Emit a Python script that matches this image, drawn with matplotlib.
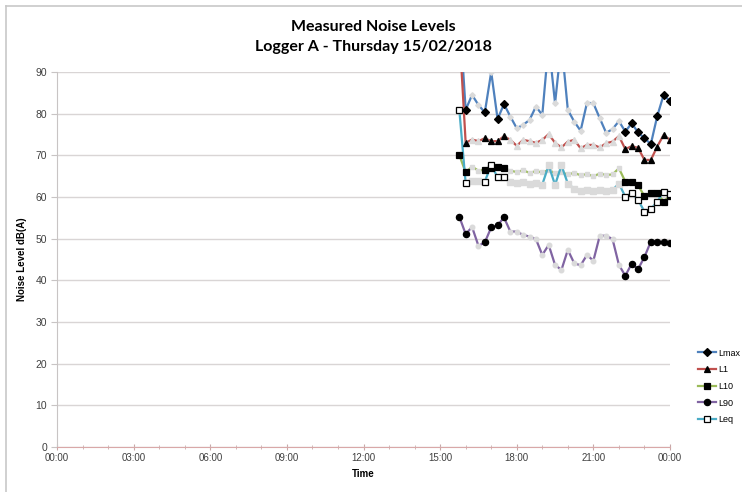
import matplotlib
matplotlib.use("Agg")
import matplotlib.pyplot as plt
from matplotlib.lines import Line2D

# ---- data ----
times = ["15:45", "16:00", "16:15", "16:30", "16:45", "17:00", "17:15", "17:30",
         "17:45", "18:00", "18:15", "18:30", "18:45", "19:00", "19:15", "19:30",
         "19:45", "20:00", "20:15", "20:30", "20:45", "21:00", "21:15", "21:30",
         "21:45", "22:00", "22:15", "22:30", "22:45", "23:00", "23:15", "23:30",
         "23:45", "00:00"]

lmax = [105.0, 80.9, 84.5, 82.1, 80.3, 90.0, 78.7, 82.3, 79.3, 76.5, 77.3, 78.5,
        81.7, 79.7, 97.0, 82.5, 97.0, 80.9, 78.1, 75.9, 82.6, 82.5, 78.9, 75.4,
        76.3, 78.2, 75.7, 77.7, 75.5, 74.1, 72.7, 79.4, 84.5, 83.0]
l1 = [100.0, 73.0, 73.8, 73.4, 74.1, 73.4, 73.4, 74.6, 73.7, 72.3, 73.7, 73.4,
      73.0, 73.7, 75.1, 73.0, 71.9, 73.3, 73.7, 71.7, 72.5, 72.5, 71.9, 72.9,
      73.3, 74.6, 71.5, 72.2, 71.8, 68.9, 68.9, 72.1, 74.9, 73.7]
l10 = [70.1, 65.9, 67.3, 66.3, 66.6, 66.9, 67.1, 66.9, 66.3, 66.0, 66.4, 65.8,
       66.2, 65.9, 66.5, 65.7, 65.9, 65.4, 65.8, 65.2, 65.5, 65.0, 65.6, 65.3,
       65.4, 66.9, 63.7, 63.6, 62.8, 60.2, 60.9, 60.9, 58.9, 60.3]
l90 = [55.3, 51.1, 52.8, 48.3, 49.1, 52.7, 53.2, 55.1, 51.7, 51.7, 50.9, 50.5,
       49.9, 46.1, 48.5, 43.7, 42.5, 47.3, 44.1, 43.6, 46.1, 44.7, 50.7, 50.7,
       49.9, 43.7, 41.1, 44.0, 42.7, 45.6, 49.3, 49.3, 49.1, 48.9]
leq = [81.0, 63.3, 63.9, 63.8, 63.7, 67.7, 64.7, 64.7, 63.5, 63.3, 63.6, 63.2,
       63.4, 63.0, 67.6, 62.9, 67.6, 63.2, 62.0, 61.5, 61.7, 61.4, 61.6, 61.5,
       61.7, 63.2, 60.1, 60.9, 59.3, 56.5, 57.1, 58.9, 61.3, 60.6]

# points whose markers are shown dark in the reference
lmax_dark = [1, 4, 6, 7, 26, 27, 28, 29, 30, 31, 32, 33]
l1_dark = [1, 4, 5, 6, 7, 26, 27, 28, 29, 30, 31, 32, 33]
l10_dark = [0, 1, 4, 5, 6, 7, 26, 27, 28, 29, 30, 31, 32, 33]
l90_dark = [0, 1, 4, 5, 6, 7, 26, 27, 28, 29, 30, 31, 32, 33]
leq_dark = [0, 1, 4, 5, 6, 7, 26, 27, 28, 29, 30, 31, 32, 33]

series_names = ["Lmax", "L1", "L10", "L90", "Leq"]
x_tick_labels = ["00:00", "03:00", "06:00", "09:00", "12:00", "15:00", "18:00", "21:00", "00:00"]
y_ticks = [0, 10, 20, 30, 40, 50, 60, 70, 80, 90]


def to_hours(labels):
    out = []
    prev = -1
    for t in labels:
        h, m = t.split(":")
        v = int(h) + int(m) / 60.0
        if v < prev:
            v += 24
        out.append(v)
        prev = v
    return out


x = to_hours(times)

plt.rcParams['font.family'] = ['Liberation Sans', 'DejaVu Sans']

fig = plt.figure(figsize=(7.42, 4.92), dpi=100)
ax = fig.add_axes([57 / 742, 1 - 447 / 492, (670 - 57) / 742, (447 - 72) / 492])

styles = [
    (lmax, lmax_dark, "#4F81BD", "D", "black", 4.0),
    (l1, l1_dark, "#C0504D", "^", "black", 5.0),
    (l10, l10_dark, "#9BBB59", "s", "black", 4.5),
    (l90, l90_dark, "#8064A2", "o", "black", 4.5),
    (leq, leq_dark, "#4BACC6", "s", "white", 5.0),
]

handles = []
for (vals, dark, col, mk, mfc, ms), name in zip(styles, series_names):
    ax.plot(x, vals, color=col, lw=1.6, marker=mk, ms=ms - 1.2,
            mfc="#dadada", mec="#dadada", zorder=3)
    ax.plot(x, vals, linestyle="none", marker=mk, ms=ms, mfc=mfc, mec="black",
            mew=0.9, markevery=dark, zorder=4)
    handles.append(Line2D([0], [0], color=col, lw=1.6, marker=mk, ms=ms,
                          mfc=mfc, mec="black", mew=0.9))

ax.set_xlim(0, 24)
ax.set_ylim(0, 90)
ax.set_xticks([0, 3, 6, 9, 12, 15, 18, 21, 24])
ax.set_xticklabels(x_tick_labels)
ax.set_xticks(range(0, 25), minor=True)
ax.set_yticks(y_ticks)
ax.yaxis.grid(True, color="#d9d5d5", lw=1.0)
ax.set_axisbelow(True)

for s in ["top", "right"]:
    ax.spines[s].set_visible(False)
ax.spines["left"].set_color("#c8c4c4")
ax.spines["bottom"].set_color("#d9a8a8")
ax.tick_params(axis="x", which="both", direction="inout", length=5,
               color="#c8a8a8", labelsize=7, labelcolor="#404040", pad=2)
ax.tick_params(axis="x", which="minor", length=3)
ax.tick_params(axis="y", direction="out", length=4, color="#c8c4c4",
               labelsize=7.5, labelcolor="#404040", pad=3)

ax.set_xlabel("Time", fontsize=7, fontweight="bold", labelpad=4)
ax.set_ylabel("Noise Level dB(A)", fontsize=7, fontweight="bold", labelpad=6)

fig.text(0.503, 1 - 27 / 492, "Measured Noise Levels", ha="center", va="center",
         fontsize=11.5, fontweight="bold", family=["Lato", "DejaVu Sans"])
fig.text(0.503, 1 - 47 / 492, "Logger A - Thursday 15/02/2018", ha="center", va="center",
         fontsize=11.5, fontweight="bold", family=["Lato", "DejaVu Sans"])

fig.legend(handles, series_names, loc="upper left",
           bbox_to_anchor=(693 / 742, 1 - 344 / 492), frameon=False,
           fontsize=6.5, handlelength=2.0, labelspacing=0.85,
           borderpad=0, handletextpad=0.3)

# chart frame
fig.add_artist(Line2D([6 / 742, 6 / 742], [0, 1 - 6 / 492], color="#c8c8c8",
                      lw=1.2, transform=fig.transFigure))
fig.add_artist(Line2D([6 / 742, 1], [1 - 6 / 492, 1 - 6 / 492], color="#c8c8c8",
                      lw=1.2, transform=fig.transFigure))

fig.savefig("out.png", dpi=100)
